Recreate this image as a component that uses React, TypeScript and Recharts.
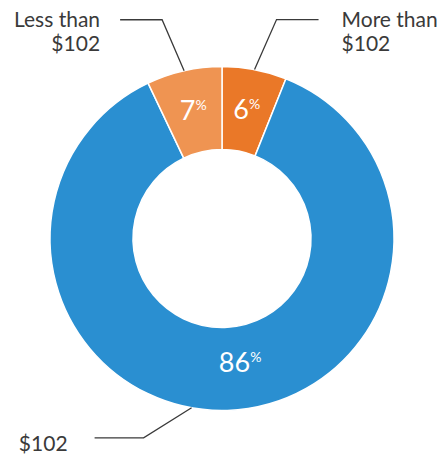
import { PieChart, Pie, Cell } from 'recharts';

// slices, clockwise from 12 o'clock
const categories = ['More than $102', '$102', 'Less than $102'];
const shares = [6, 86, 7];
const calloutLines = [['More than', '$102'], ['$102'], ['Less than', '$102']];

const COLORS = ['#EA7828', '#2A8FD1', '#EF9452'];
const INK = '#3a3a3a';
const FONT = 'Lato, "Noto Sans", sans-serif';
const RAD = Math.PI / 180;

// callout layout per slice: leader start angle shift, elbow offset, horizontal run, text offset
const CALLOUTS = [
  { shift: 0, elbow: [22, -50], run: 42, text: [23, 7], anchor: 'start', inner: [0, 0] },
  { shift: -12, elbow: [-48, 30], run: -49, text: [-27, 13], anchor: 'end', inner: [14, -6] },
  { shift: 0, elbow: [-22, -51], run: -42, text: [-20, 7], anchor: 'end', inner: [0, 0] },
];

const data = categories.map((name, i) => ({ name, value: shares[i] }));

const renderLabel = (props: any) => {
  const { cx, cy, midAngle, innerRadius, outerRadius, index, value } = props;
  const c = CALLOUTS[index];
  const mr = (innerRadius + outerRadius) / 2;
  const ix = cx + mr * Math.cos(-midAngle * RAD) + c.inner[0];
  const iy = cy + mr * Math.sin(-midAngle * RAD) + c.inner[1];

  const a = (midAngle + c.shift) * RAD;
  const sx = cx + outerRadius * Math.cos(-a);
  const sy = cy + outerRadius * Math.sin(-a);
  const ex = sx + c.elbow[0];
  const ey = sy + c.elbow[1];
  const tx = ex + c.run;
  const lines = calloutLines[index];

  return (
    <g>
      <text x={ix} y={iy + 9} fill="#fff" textAnchor="middle" fontFamily={FONT}>
        <tspan fontSize={27}>{value}</tspan>
        <tspan fontSize={14} dy={-10}>%</tspan>
      </text>
      <polyline
        points={`${sx},${sy} ${ex},${ey} ${tx},${ey}`}
        fill="none"
        stroke={INK}
        strokeWidth={1.3}
      />
      <text
        x={tx + c.text[0]}
        y={ey + c.text[1]}
        fill={INK}
        fontSize={21}
        fontFamily={FONT}
        textAnchor={c.anchor as any}
      >
        {lines.map((l, k) => (
          <tspan key={k} x={tx + c.text[0]} dy={k === 0 ? 0 : 24}>
            {l}
          </tspan>
        ))}
      </text>
    </g>
  );
};

export default function App() {
  return (
    <div style={{ position: 'absolute', left: 0, top: 0, width: 447, height: 456, background: '#fff' }}>
      <PieChart width={447} height={456} margin={{ top: 0, right: 0, bottom: 0, left: 0 }}>
        <Pie
          data={data}
          dataKey="value"
          nameKey="name"
          cx={222}
          cy={238.5}
          innerRadius={89}
          outerRadius={172}
          startAngle={90}
          endAngle={-270}
          stroke="#fff"
          strokeWidth={1.5}
          label={renderLabel}
          labelLine={false}
          isAnimationActive={false}
        >
          {data.map((d, i) => (
            <Cell key={d.name} fill={COLORS[i]} />
          ))}
        </Pie>
      </PieChart>
    </div>
  );
}
